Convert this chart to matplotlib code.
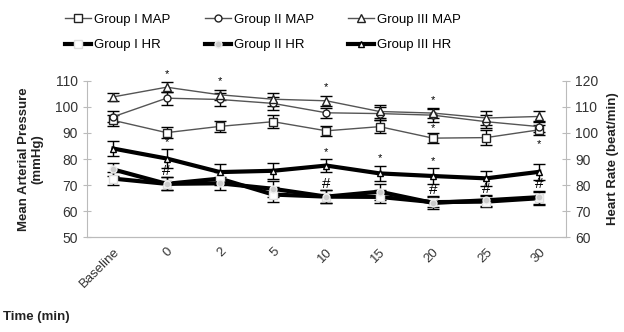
import matplotlib.pyplot as plt

plt.rcParams['font.family'] = ['Liberation Sans', 'DejaVu Sans']

# time points
tiempos = ["Baseline", "0", "2", "5", "10", "15", "20", "25", "30"]

# mean arterial pressure (mmHg), left axis
map_g1 = [94.8, 90.1, 92.5, 94.3, 90.8, 92.4, 88.0, 88.2, 91.2]
map_g2 = [96.2, 103.3, 102.8, 101.3, 97.7, 97.4, 96.8, 94.3, 92.4]
map_g3 = [103.8, 107.5, 104.6, 102.9, 102.3, 98.2, 97.6, 95.7, 96.3]
map_e1 = [2.0, 2.0, 2.0, 2.5, 2.0, 2.5, 2.0, 3.0, 2.0]
map_e2 = [2.0, 2.5, 2.5, 2.5, 2.0, 2.5, 2.5, 2.5, 2.0]
map_e3 = [1.5, 2.0, 2.0, 2.5, 2.0, 2.5, 2.0, 2.5, 2.0]

# heart rate (beat/min), right axis
hr_g1 = [82.5, 80.5, 82.5, 76.4, 75.6, 75.5, 73.5, 73.7, 75.0]
hr_g2 = [86.0, 80.5, 80.7, 78.6, 75.6, 77.5, 73.2, 74.2, 75.4]
hr_g3 = [94.0, 90.2, 85.0, 85.5, 87.5, 84.5, 83.5, 82.6, 85.1]
hr_e1 = [2.5, 2.5, 2.5, 3.0, 2.5, 2.5, 2.0, 2.0, 2.5]
hr_e2 = [2.5, 2.5, 2.5, 3.0, 2.5, 3.0, 2.5, 2.0, 2.5]
hr_e3 = [3.0, 3.5, 3.0, 3.0, 2.5, 3.0, 3.0, 3.0, 3.0]

# significance marks
marcas_map = [1, 2, 4, 6]
marcas_hr_ast = [1, 4, 5, 6]
marcas_hr_num = [1, 4, 6, 7, 8]

x = list(range(len(tiempos)))

fig = plt.figure(figsize=(6.24, 3.32), dpi=100)
ax1 = fig.add_axes([0.139, 0.285, 0.768, 0.472])
ax2 = ax1.twinx()

estilo_err = dict(ecolor='black', elinewidth=1, capsize=4, capthick=1.2)

h1 = ax1.errorbar(x, map_g1, yerr=map_e1, color='#555555', lw=1, marker='s', ms=5.5,
                  mfc='white', mec='#222222', mew=1, zorder=3, **estilo_err)
h2 = ax1.errorbar(x, map_g2, yerr=map_e2, color='#555555', lw=1, marker='o', ms=5,
                  mfc='white', mec='#222222', mew=1, zorder=3, **estilo_err)
h3 = ax1.errorbar(x, map_g3, yerr=map_e3, color='#555555', lw=1, marker='^', ms=5.5,
                  mfc='white', mec='#222222', mew=1, zorder=3, **estilo_err)

h4 = ax2.errorbar(x, hr_g1, yerr=hr_e1, color='black', lw=3, marker='s', ms=5.5,
                  mfc='white', mec='#dddddd', mew=1, zorder=3, **estilo_err)
h5 = ax2.errorbar(x, hr_g2, yerr=hr_e2, color='black', lw=3, marker='o', ms=5,
                  mfc='#cccccc', mec='#eeeeee', mew=1, zorder=3, **estilo_err)
h6 = ax2.errorbar(x, hr_g3, yerr=hr_e3, color='black', lw=3, marker='^', ms=5,
                  mfc='white', mec='black', mew=1, zorder=3, **estilo_err)

# asterisks and hashes
for i in marcas_map:
    ax1.text(i, map_g3[i] + map_e3[i] + 1.2, '*', ha='center', va='bottom', fontsize=8, clip_on=False)
ax1.text(6, map_g2[6] - map_e2[6] - 0.5, '*', ha='center', va='top', fontsize=8)
ax1.text(8, map_g1[8] - map_e1[8] - 1.5, '*', ha='center', va='top', fontsize=8)
for i in marcas_hr_ast:
    ax2.text(i, hr_g3[i] + hr_e3[i] + 0.8, '*', ha='center', va='bottom', fontsize=8)
for i in marcas_hr_num:
    base = max(hr_g1[i] + hr_e1[i], hr_g2[i] + hr_e2[i])
    ax2.text(i, base - 0.3, '#', ha='center', va='bottom', fontsize=11)

ax1.set_xlim(-0.5, len(tiempos) - 0.5)
ax1.set_ylim(50, 110)
ax2.set_ylim(60, 120)
ax1.set_yticks(range(50, 111, 10))
ax2.set_yticks(range(60, 121, 10))
ax1.set_xticks(x)
ax1.set_xticklabels(tiempos, rotation=45, ha='right', rotation_mode='anchor', fontsize=9.5, color='#333333')

for ax in (ax1, ax2):
    for lado in ax.spines.values():
        lado.set_color('#bbbbbb')
    ax.spines['top'].set_visible(False)
    ax.tick_params(axis='y', direction='inout', length=6, color='#bbbbbb', labelsize=10, labelcolor='#333333')
ax1.spines['right'].set_visible(False)
ax2.spines['left'].set_visible(False)
ax1.tick_params(axis='x', length=0, pad=6)

ax1.set_ylabel("Mean Arterial Pressure\n(mmHg)", fontsize=9.5, fontweight='bold', color='#222222', labelpad=8)
ax2.set_ylabel("Heart Rate (beat/min)", fontsize=9.5, fontweight='bold', color='#222222', labelpad=6)
fig.text(0.005, 0.035, "Time (min)", fontsize=9.5, fontweight='bold', color='#222222')

fig.legend([h1[0], h4[0], h2[0], h5[0], h3[0], h6[0]],
           ['Group I MAP', 'Group I HR', 'Group II MAP', 'Group II HR', 'Group III MAP', 'Group III HR'],
           ncol=3, loc='upper left', bbox_to_anchor=(0.085, 0.995), frameon=False, fontsize=9.5,
           handlelength=2.0, handletextpad=0.2, columnspacing=2.6, labelspacing=1.0)

fig.savefig('out.png', dpi=100)
